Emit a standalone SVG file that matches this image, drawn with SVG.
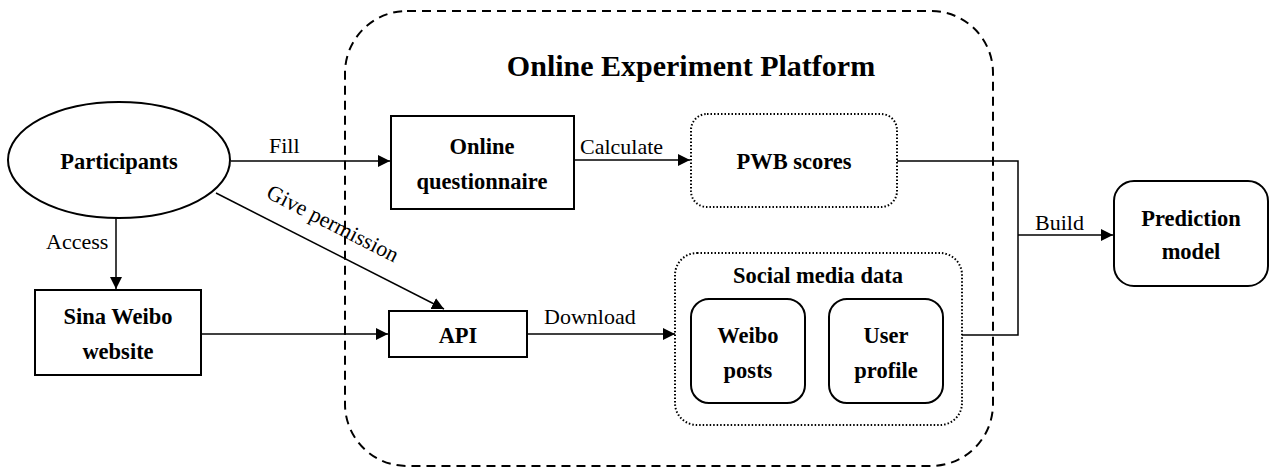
<svg xmlns="http://www.w3.org/2000/svg" width="1272" height="476" viewBox="0 0 1272 476">
  <defs>
    <marker id="arrow" viewBox="0 0 12 12" refX="12" refY="6" markerWidth="12" markerHeight="12" markerUnits="userSpaceOnUse" orient="auto">
      <path d="M0,0 L12,6 L0,12 Z" fill="#000"/>
    </marker>
    <style>
      .box { fill: #fff; stroke: #000; stroke-width: 2; }
      .dotted { fill: #fff; stroke: #000; stroke-width: 2; stroke-dasharray: 1.5 2; }
      .frame { fill: none; stroke: #000; stroke-width: 2; stroke-dasharray: 9 6; }
      .edge { fill: none; stroke: #000; stroke-width: 1.5; }
      .node { font-family: "Liberation Serif", "Times New Roman", serif; font-weight: bold; font-size: 22.5px; text-anchor: middle; fill: #000; }
      .label { font-family: "Liberation Serif", "Times New Roman", serif; font-size: 22px; fill: #000; }
      .title { font-family: "Liberation Serif", "Times New Roman", serif; font-weight: bold; font-size: 30px; text-anchor: middle; fill: #000; }
    </style>
  </defs>
  <rect width="1272" height="476" fill="#fff"/>

  <!-- platform boundary -->
  <g id="platform">
    <rect class="frame" x="345" y="11" width="648" height="455" rx="62" ry="62"/>
    <text class="title" x="691" y="76">Online Experiment Platform</text>
  </g>

  <!-- connectors -->
  <g id="connectors">
    <line class="edge" x1="231" y1="161" x2="390" y2="161" marker-end="url(#arrow)"/>
    <text class="label" x="269" y="153">Fill</text>

    <line class="edge" x1="574" y1="160" x2="690" y2="160" marker-end="url(#arrow)"/>
    <text class="label" x="580" y="154">Calculate</text>

    <line class="edge" x1="116" y1="218" x2="116" y2="289" marker-end="url(#arrow)"/>
    <text class="label" x="46" y="249">Access</text>

    <line class="edge" x1="216" y1="193" x2="444" y2="309" marker-end="url(#arrow)"/>
    <text class="label" transform="translate(265,197) rotate(27)">Give permission</text>

    <line class="edge" x1="201" y1="334" x2="388" y2="334" marker-end="url(#arrow)"/>

    <line class="edge" x1="527" y1="334" x2="675" y2="334" marker-end="url(#arrow)"/>
    <text class="label" x="544" y="324">Download</text>

    <polyline class="edge" points="897,161 1018,161 1018,335 962,335"/>
    <line class="edge" x1="1018" y1="235" x2="1113" y2="235" marker-end="url(#arrow)"/>
    <text class="label" x="1035" y="230">Build</text>
  </g>

  <g id="participants">
    <ellipse class="box" cx="119" cy="160" rx="111" ry="58"/>
    <text class="node" x="119" y="169">Participants</text>
  </g>

  <g id="sina-weibo">
    <rect class="box" x="35" y="290" width="166" height="85"/>
    <text class="node" x="118" y="324">Sina Weibo</text>
    <text class="node" x="118" y="359">website</text>
  </g>

  <g id="questionnaire">
    <rect class="box" x="391" y="116" width="183" height="93"/>
    <text class="node" x="482" y="154">Online</text>
    <text class="node" x="482" y="189">questionnaire</text>
  </g>

  <g id="pwb-scores">
    <rect class="dotted" x="691" y="114" width="206" height="93" rx="16" ry="16"/>
    <text class="node" x="794" y="169">PWB scores</text>
  </g>

  <g id="api">
    <rect class="box" x="389" y="311" width="138" height="46"/>
    <text class="node" x="458" y="343">API</text>
  </g>

  <g id="social-media-data">
    <rect class="dotted" x="675" y="253" width="287" height="172" rx="22" ry="22"/>
    <text class="node" x="818" y="283">Social media data</text>
    <g id="weibo-posts">
      <rect class="box" x="691" y="299" width="114" height="104" rx="18" ry="18"/>
      <text class="node" x="748" y="343">Weibo</text>
      <text class="node" x="748" y="378">posts</text>
    </g>
    <g id="user-profile">
      <rect class="box" x="829" y="299" width="114" height="104" rx="18" ry="18"/>
      <text class="node" x="886" y="343">User</text>
      <text class="node" x="886" y="378">profile</text>
    </g>
  </g>

  <g id="prediction-model">
    <rect class="box" x="1114" y="181" width="154" height="105" rx="20" ry="20"/>
    <text class="node" x="1191" y="226">Prediction</text>
    <text class="node" x="1191" y="259">model</text>
  </g>
</svg>
